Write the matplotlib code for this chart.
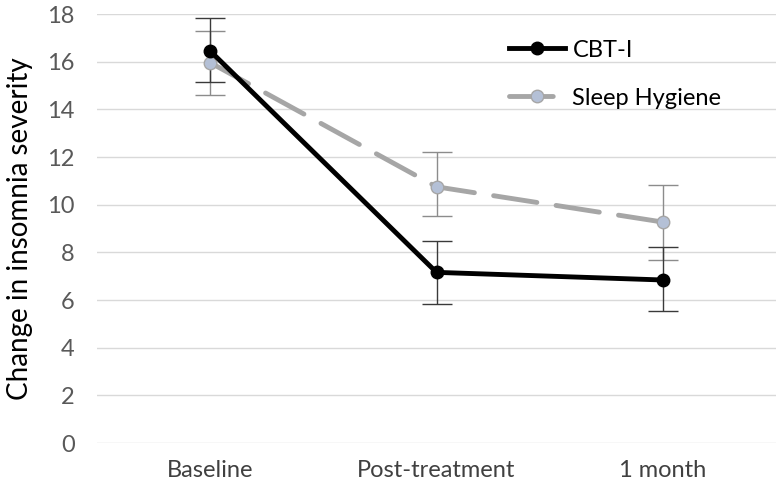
import numpy as np
import matplotlib.pyplot as plt

plt.rcParams["font.family"] = ["Lato", "DejaVu Sans"]

timepoints = ["Baseline", "Post-treatment", "1 month"]

cbt_mean = [16.45, 7.16, 6.84]
cbt_upper = [17.83, 8.49, 8.22]
cbt_lower = [15.16, 5.82, 5.54]

hyg_mean = [15.96, 10.75, 9.27]
hyg_upper = [17.29, 12.21, 10.83]
hyg_lower = [14.60, 9.53, 7.68]

yticks = np.arange(0, 19, 2)

fig = plt.figure(figsize=(7.76, 4.93), dpi=100)
ax = fig.add_axes([0.125, 0.1014, 0.875, 0.8702])

x = np.arange(len(timepoints))

hyg_err = [np.subtract(hyg_mean, hyg_lower), np.subtract(hyg_upper, hyg_mean)]
cbt_err = [np.subtract(cbt_mean, cbt_lower), np.subtract(cbt_upper, cbt_mean)]

ax.errorbar(x, hyg_mean, yerr=hyg_err, fmt="none", ecolor="#8c8c8c",
            elinewidth=1, capsize=11, capthick=1, zorder=2)
ax.errorbar(x, cbt_mean, yerr=cbt_err, fmt="none", ecolor="#3a3a3a",
            elinewidth=1, capsize=11, capthick=1, zorder=2)

ax.plot(x, hyg_mean, color="#a6a6a6", linewidth=3.5, linestyle=(0, (9, 4)),
        marker="o", markersize=9, markerfacecolor="#b4c0d6",
        markeredgecolor="#a6a6a6", markeredgewidth=1, label="Sleep Hygiene",
        zorder=3, dash_capstyle="round")
ax.plot(x, cbt_mean, color="black", linewidth=3.5, marker="o", markersize=9,
        label="CBT-I", zorder=4)

ax.set_xlim(-0.5, 2.5)
ax.set_ylim(0, 18)
ax.set_yticks(yticks)
ax.set_xticks(x)
ax.set_xticklabels(timepoints)
ax.grid(axis="y", color="#d9d9d9", linewidth=1)
ax.set_axisbelow(True)
for s in ax.spines.values():
    s.set_visible(False)
ax.tick_params(length=0, labelsize=17, labelcolor="#595959")
ax.tick_params(axis="y", pad=16)
ax.tick_params(axis="x", labelcolor="#404040", pad=12)
ax.set_ylabel("Change in insomnia severity", fontsize=20, labelpad=10)

handles, labels = ax.get_legend_handles_labels()
ax.legend(handles[::-1], labels[::-1], loc="upper left",
          bbox_to_anchor=(0.575, 0.99), frameon=False, fontsize=17,
          handlelength=2.4, labelspacing=1.15, handletextpad=0.3)

fig.savefig("out.png", dpi=100)
